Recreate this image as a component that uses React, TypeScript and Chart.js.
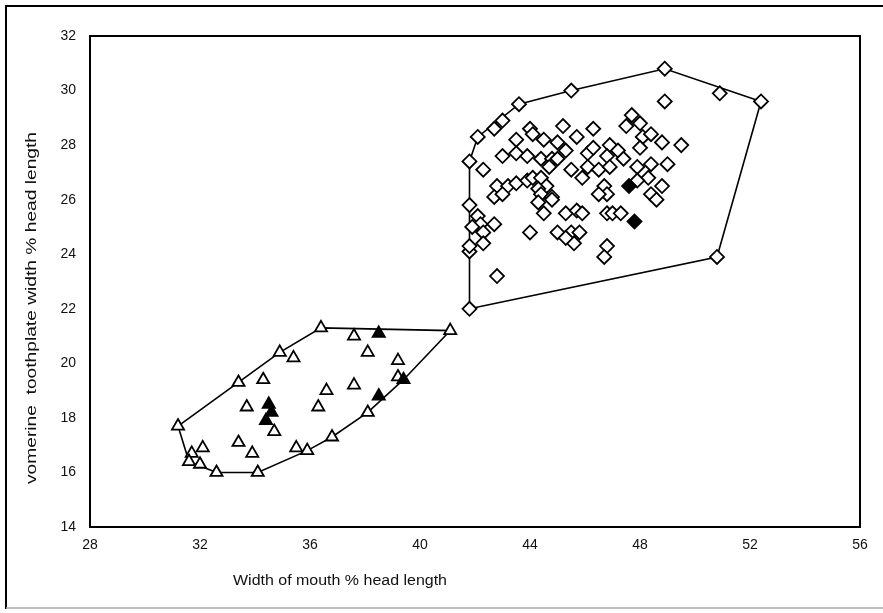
import React, { useEffect, useRef } from "react";
import { Chart, registerables } from "chart.js";

Chart.register(...registerables);

// Open triangles (group 1)
const triX = [31.2, 31.7, 32.1, 31.6, 32.0, 32.6, 34.1, 33.4, 33.9, 35.5, 35.9, 36.8, 38.1, 39.2, 39.2, 38.1, 37.6, 41.1, 36.4, 34.9, 35.4, 33.4, 34.3, 33.7, 34.7, 36.3, 36.6, 37.6];
const triY = [17.7, 16.7, 16.9, 16.4, 16.3, 16.0, 16.0, 17.1, 16.7, 16.9, 16.8, 17.3, 18.2, 19.5, 20.1, 20.4, 21.0, 21.2, 21.3, 20.4, 20.2, 19.3, 19.4, 18.4, 17.5, 18.4, 19.0, 19.2];
// Filled triangles
const triFilledX = [38.5, 39.4, 38.5, 34.5, 34.6, 34.4];
const triFilledY = [18.8, 19.4, 21.1, 18.5, 18.2, 17.9];

// Open diamonds (group 2)
const diaX = [
  48.9, 50.9, 52.4, 50.8, 41.8, 41.8, 41.8, 42.1, 43.6, 45.5,
  48.9, 47.7, 48.0, 47.5, 43.0, 42.7, 44.0, 45.2, 46.3, 45.7,
  43.5, 44.5, 45.0, 46.9, 47.2, 48.1, 48.4, 48.8, 49.5, 48.0,
  43.0, 43.5, 43.9, 45.3, 46.1, 46.3, 46.8, 42.3, 44.4, 44.8,
  44.7, 47.4, 47.9, 48.4, 49.0, 45.5, 46.1, 45.9, 46.5, 46.9,
  48.3, 42.8, 43.2, 43.5, 43.9, 44.1, 44.4, 44.6, 42.7, 43.0,
  44.3, 44.4, 44.8, 46.7, 46.8, 46.5, 47.9, 48.4, 48.8, 41.8,
  42.1, 42.2, 42.7, 41.9, 44.3, 44.5, 44.8, 45.3, 45.7, 45.9,
  46.8, 47.0, 47.3, 42.3, 42.3, 44.0, 45.0, 45.5, 45.8, 45.6,
  45.3, 41.8, 46.8, 46.7, 42.8, 48.6, 45.0, 44.1,
];
const diaY = [
  30.8, 29.9, 29.6, 23.9, 22.0, 24.1, 27.4, 28.3, 29.5, 30.0,
  29.6, 29.1, 28.8, 28.7, 28.9, 28.6, 28.6, 28.7, 28.6, 28.3,
  28.2, 28.2, 28.1, 28.0, 27.8, 28.3, 28.4, 28.1, 28.0, 27.9,
  27.6, 27.7, 27.6, 27.8, 27.7, 27.9, 27.6, 27.1, 27.5, 27.5,
  27.2, 27.5, 27.2, 27.3, 27.3, 27.1, 27.2, 26.8, 27.1, 27.2,
  26.8, 26.5, 26.5, 26.6, 26.7, 26.8, 26.8, 26.5, 26.1, 26.2,
  26.4, 26.2, 26.1, 26.5, 26.2, 26.2, 26.7, 26.2, 26.5, 25.8,
  25.4, 25.1, 25.1, 25.0, 25.9, 25.5, 26.0, 25.5, 25.6, 25.5,
  25.5, 25.5, 25.5, 24.8, 24.4, 24.8, 24.8, 24.8, 24.8, 24.4,
  24.6, 24.3, 24.3, 23.9, 23.2, 26.0, 27.5, 28.4,
];
// Filled diamonds
const diaFilledX = [47.6, 47.8];
const diaFilledY = [26.5, 25.2];

const xTicks = [28, 32, 36, 40, 44, 48, 52, 56];
const yTicks = [14, 16, 18, 20, 22, 24, 26, 28, 30, 32];

const xTitle = "Width of mouth % head length";
const yTitle = "vomerine  toothplate width % head length";

type P = { x: number; y: number };

const toPts = (xs: number[], ys: number[]): P[] => xs.map((x, i) => ({ x, y: ys[i] }));

function hull(points: P[]): P[] {
  const pts = [...points].sort((a, b) => (a.x === b.x ? a.y - b.y : a.x - b.x));
  const cross = (o: P, a: P, b: P) => (a.x - o.x) * (b.y - o.y) - (a.y - o.y) * (b.x - o.x);
  const lower: P[] = [];
  for (const p of pts) {
    while (lower.length >= 2 && cross(lower[lower.length - 2], lower[lower.length - 1], p) <= 0) lower.pop();
    lower.push(p);
  }
  const upper: P[] = [];
  for (let i = pts.length - 1; i >= 0; i--) {
    const p = pts[i];
    while (upper.length >= 2 && cross(upper[upper.length - 2], upper[upper.length - 1], p) <= 0) upper.pop();
    upper.push(p);
  }
  upper.pop();
  lower.pop();
  const h = lower.concat(upper);
  h.push(h[0]);
  return h;
}

const FONT = "'Liberation Sans', Arial, sans-serif";

export default function App() {
  const ref = useRef<HTMLCanvasElement | null>(null);

  useEffect(() => {
    if (!ref.current) return;
    const tri = toPts(triX, triY);
    const triF = toPts(triFilledX, triFilledY);
    const dia = toPts(diaX, diaY);
    const diaF = toPts(diaFilledX, diaFilledY);

    const framePlugin = {
      id: "frame",
      beforeDraw(chart: any) {
        const c = chart.ctx;
        c.save();
        c.fillStyle = "#fff";
        c.fillRect(0, 0, chart.width, chart.height);
        c.restore();
      },
      afterDraw(chart: any) {
        const c = chart.ctx;
        const a = chart.chartArea;
        c.save();
        c.strokeStyle = "#000";
        c.lineWidth = 2;
        c.strokeRect(a.left, a.top, a.right - a.left, a.bottom - a.top);
        // outer frame
        c.beginPath();
        c.moveTo(6, 609);
        c.lineTo(6, 6);
        c.lineTo(883, 6);
        c.stroke();
        c.strokeStyle = "#aaa";
        c.lineWidth = 1.5;
        c.beginPath();
        c.moveTo(6, 608);
        c.lineTo(883, 608);
        c.stroke();
        // titles
        c.fillStyle = "#111";
        c.font = `14px ${FONT}`;
        c.textAlign = "center";
        c.textBaseline = "middle";
        const drawStretched = (text: string, cx: number, cy: number, w: number, rot: number) => {
          c.save();
          c.translate(cx, cy);
          c.rotate(rot);
          const m = c.measureText(text).width;
          c.scale(w / m, 1);
          c.fillText(text, 0, 0);
          c.restore();
        };
        drawStretched(xTitle, 340, 581, 214, 0);
        drawStretched(yTitle, 32, 308, 352, -Math.PI / 2);
        c.restore();
      },
    };

    const markerCommon = {
      showLine: false,
      borderColor: "#000",
      borderWidth: 1.8,
    };

    const chart = new Chart(ref.current, {
      type: "scatter",
      data: {
        datasets: [
          { ...markerCommon, label: "filled diamonds", data: diaF, pointStyle: "rectRot", pointRadius: 7, backgroundColor: "#000" },
          { ...markerCommon, label: "filled triangles", data: triF, pointStyle: "triangle", pointRadius: 7, backgroundColor: "#000" },
          { ...markerCommon, label: "diamonds", data: dia, pointStyle: "rectRot", pointRadius: 7, backgroundColor: "#fff" },
          { ...markerCommon, label: "triangles", data: tri, pointStyle: "triangle", pointRadius: 7, backgroundColor: "#fff" },
          { label: "diamond hull", data: hull(dia.concat(diaF)), showLine: true, pointRadius: 0, borderColor: "#000", borderWidth: 1.6, fill: false, tension: 0 },
          { label: "triangle hull", data: hull(tri.concat(triF)), showLine: true, pointRadius: 0, borderColor: "#000", borderWidth: 1.6, fill: false, tension: 0 },
        ] as any,
      },
      options: {
        animation: false,
        responsive: false,
        devicePixelRatio: 1,
        layout: { padding: { left: 0, top: 36, right: 23, bottom: 0 } },
        plugins: { legend: { display: false }, tooltip: { enabled: false }, title: { display: false } },
        scales: {
          x: {
            type: "linear",
            min: 28,
            max: 56,
            afterBuildTicks: (s: any) => { s.ticks = xTicks.map((v) => ({ value: v })); },
            afterFit: (s: any) => { s.height = 86; },
            grid: { display: false, drawTicks: false },
            border: { display: false },
            ticks: { font: { family: FONT, size: 14 }, color: "#111", padding: 10, maxRotation: 0 },
          },
          y: {
            type: "linear",
            min: 14,
            max: 32,
            afterBuildTicks: (s: any) => { s.ticks = yTicks.map((v) => ({ value: v })); },
            afterFit: (s: any) => { s.width = 90; },
            grid: { display: false, drawTicks: false },
            border: { display: false },
            ticks: { font: { family: FONT, size: 14 }, color: "#111", padding: 14 },
          },
        },
      },
      plugins: [framePlugin],
    });
    return () => chart.destroy();
  }, []);

  return (
    <div style={{ position: "absolute", left: 0, top: 0, width: 883, height: 613, background: "#fff" }}>
      <canvas ref={ref} width={883} height={613} style={{ display: "block" }} />
    </div>
  );
}
